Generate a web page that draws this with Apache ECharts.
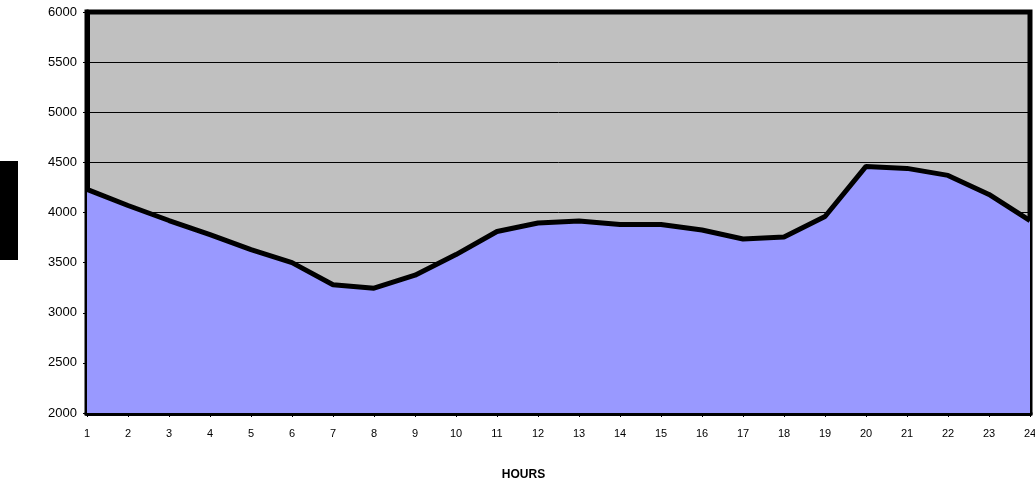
<!DOCTYPE html>
<html><head><meta charset="utf-8">
<script src="https://cdn.jsdelivr.net/npm/echarts@6/dist/echarts.min.js"></script>
<style>html,body{margin:0;padding:0;background:#fff}#c{width:1035px;height:483px}</style>
</head><body><div id="c"></div>
<script>
const hours = ['1','2','3','4','5','6','7','8','9','10','11','12','13','14','15','16','17','18','19','20','21','22','23','24'];
const load = [4230,4070,3920,3780,3630,3500,3280,3245,3375,3580,3810,3895,3915,3880,3880,3825,3735,3755,3960,4460,4440,4370,4180,3920];
const yTicks = {min:2000, max:6000, interval:500};

const chart = echarts.init(document.getElementById('c'), null, {renderer:'canvas'});
chart.setOption({
  animation:false,
  grid:{left:87,right:5,top:12,bottom:70,show:true,backgroundColor:'#c0c0c0',borderColor:'#000',borderWidth:5,containLabel:false,outerBoundsMode:'none'},
  graphic:[{type:'rect',shape:{x:0,y:161,width:18,height:99},style:{fill:'#000'}}],
  xAxis:{type:'category',data:hours,boundaryGap:false,
    name:'HOURS',nameLocation:'middle',nameGap:56,
    nameTextStyle:{fontFamily:'Liberation Sans, Arial',fontSize:12,fontWeight:'bold',color:'#000',padding:[0,70,0,0]},
    axisLine:{show:true,lineStyle:{color:'#000',width:5}},
    axisTick:{show:true,length:4,lineStyle:{color:'#000',width:1},alignWithLabel:true},
    axisLabel:{fontFamily:'Liberation Sans, Arial',fontSize:11,color:'#000',margin:15,interval:0},
    splitLine:{show:false}},
  yAxis:{type:'value',min:yTicks.min,max:yTicks.max,interval:yTicks.interval,
    axisLine:{show:true,lineStyle:{color:'#000',width:5}},
    axisTick:{show:true,length:4,lineStyle:{color:'#000',width:1}},
    axisLabel:{fontFamily:'Liberation Sans, Arial',fontSize:13,color:'#000',margin:10,formatter:v=>String(v)},
    splitLine:{show:true,lineStyle:{color:'#000',width:1}}},
  series:[{type:'line',data:load,symbol:'none',
    lineStyle:{color:'#000',width:5},
    areaStyle:{color:'#9999ff',opacity:1,origin:'start'}}]
});
</script></body></html>
